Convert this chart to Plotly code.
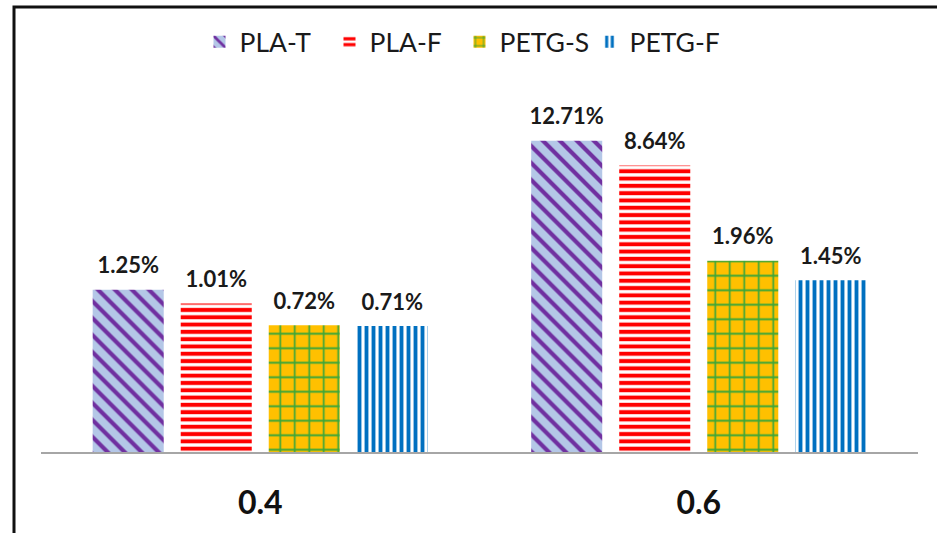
import plotly.graph_objects as go

categories = ["0.4", "0.6"]
series_names = ["PLA-T", "PLA-F", "PETG-S", "PETG-F"]
pla_t = [1.25, 12.71]
pla_f = [1.01, 8.64]
petg_s = [0.72, 1.96]
petg_f = [0.71, 1.45]

series_values = [pla_t, pla_f, petg_s, petg_f]
styles = [
    dict(shape="\\", fgcolor="#7030a0", bgcolor="#b4c7e7", size=12, solidity=0.35),
    dict(shape="-", fgcolor="#ff0000", bgcolor="#ffffff", size=7.3, solidity=0.55),
    dict(shape="+", fgcolor="#3aa63a", bgcolor="#ffc000", size=14.5, solidity=0.22),
    dict(shape="|", fgcolor="#0070c0", bgcolor="#ffffff", size=7, solidity=0.55),
]

fig = go.Figure()
for name, vals, st in zip(series_names, series_values, styles):
    fig.add_trace(go.Bar(
        x=categories, y=vals, name=name, offsetgroup=name,
        marker=dict(color=st["bgcolor"], line=dict(width=0),
                    pattern=dict(shape=st["shape"], fgcolor=st["fgcolor"], bgcolor=st["bgcolor"],
                                 size=st["size"], solidity=st["solidity"], fgopacity=1,
                                 fillmode="replace")),
        hoverinfo="x+y",
    ))
for name, vals in zip(series_names, series_values):
    fig.add_trace(go.Scatter(
        x=categories, y=vals, mode="markers+text", offsetgroup=name,
        text=[f"{v:.2f}%" for v in vals], textposition="top center",
        textfont=dict(family="Lato", size=22, color="#1a1a1a", weight="bold"),
        marker=dict(size=16, color="rgba(0,0,0,0)"),
        showlegend=False, hoverinfo="skip",
    ))

W, H = 937, 533
ml, mr, mt, mb = 41, 19, 80, 81
pw, ph = W - ml - mr, H - mt - mb

fig.update_layout(
    width=W, height=H,
    margin=dict(l=ml, r=mr, t=mt, b=mb, autoexpand=False),
    paper_bgcolor="white", plot_bgcolor="white",
    barmode="group", bargap=0.197, bargroupgap=0.193,
    scattermode="group", scattergap=0.197,
    font=dict(family="Lato", color="#1a1a1a"),
    legend=dict(orientation="h", x=0.5 - 20 / pw, xanchor="center", y=(ph + mt - 42) / ph,
                yanchor="middle", entrywidth=85, entrywidthmode="pixels",
                font=dict(size=26.5, family="Lato", color="#1a1a1a"), bgcolor="rgba(0,0,0,0)"),
    xaxis=dict(showline=True, linecolor="#a6a6a6", linewidth=2, showgrid=False, ticks="",
               tickfont=dict(size=32, family="Lato", color="#111", weight="bold"),
               ticklabelstandoff=22, automargin=False, fixedrange=True),
    yaxis=dict(type="log", range=[-1, 1.514], visible=False, showgrid=False,
               automargin=False, fixedrange=True),
    shapes=[dict(type="rect", xref="paper", yref="paper",
                 x0=(14 - ml) / pw, x1=(W + 10 - ml) / pw,
                 y0=-(mb + 10) / ph, y1=(ph + mt - 7) / ph,
                 line=dict(color="#111", width=3), fillcolor="rgba(0,0,0,0)", layer="above")],
)

fig.write_html("out.html", config={"displayModeBar": False},
               post_script="document.body.style.margin='0px';document.body.style.overflow='hidden';")
